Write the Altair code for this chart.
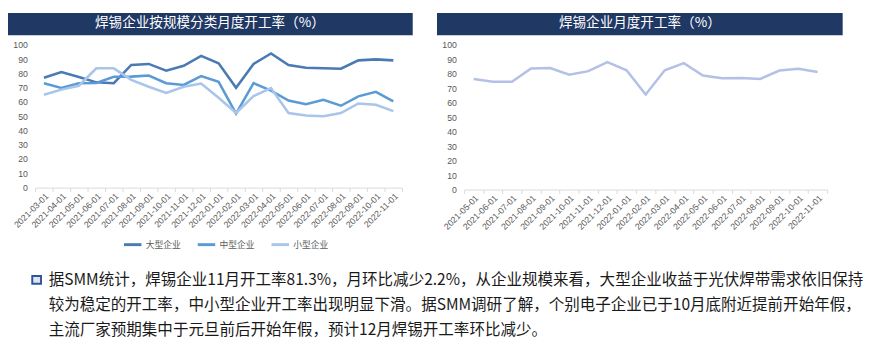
import altair as alt
import pandas as pd

# ---------------- data ----------------
months_left = ["2021-03-01", "2021-04-01", "2021-05-01", "2021-06-01", "2021-07-01",
               "2021-08-01", "2021-09-01", "2021-10-01", "2021-11-01", "2021-12-01",
               "2022-01-01", "2022-02-01", "2022-03-01", "2022-04-01", "2022-05-01",
               "2022-06-01", "2022-07-01", "2022-08-01", "2022-09-01", "2022-10-01",
               "2022-11-01"]
large = [77.0, 81.0, 77.5, 73.8, 73.2, 86.0, 86.7, 82.0, 85.4, 92.3,
         87.2, 70.0, 86.7, 94.1, 86.0, 84.0, 83.6, 83.4, 89.2, 89.9, 89.2]
medium = [73.2, 69.9, 73.2, 73.4, 77.7, 77.8, 78.6, 73.2, 72.0, 78.2,
          74.1, 51.8, 73.2, 68.0, 61.0, 58.4, 61.5, 57.4, 64.0, 67.1, 60.4]
small = [65.1, 68.7, 71.4, 83.6, 83.6, 75.5, 70.7, 66.4, 70.7, 73.0,
         63.0, 52.3, 64.2, 69.8, 52.3, 50.5, 50.0, 52.3, 59.0, 58.1, 53.6]
series_names = ["大型企业", "中型企业", "小型企业"]
series_colors = ["#4a7ab4", "#5b9bd5", "#a9c5ea"]

months_right = ["2021-05-01", "2021-06-01", "2021-07-01", "2021-08-01", "2021-09-01",
                "2021-10-01", "2021-11-01", "2021-12-01", "2022-01-01", "2022-02-01",
                "2022-03-01", "2022-04-01", "2022-05-01", "2022-06-01", "2022-07-01",
                "2022-08-01", "2022-09-01", "2022-10-01", "2022-11-01"]
overall = [76.5, 74.6, 74.6, 83.8, 84.1, 79.4, 81.9, 88.1, 82.5, 65.7,
           82.5, 87.4, 78.8, 77.0, 77.2, 76.5, 82.3, 83.5, 81.3]

title_left = "焊锡企业按规模分类月度开工率（%）"
title_right = "焊锡企业月度开工率（%）"
paragraph = [
    "据SMM统计，焊锡企业11月开工率81.3%，月环比减少2.2%，从企业规模来看，大型企业收益于光伏焊带需求依旧保持",
    "较为稳定的开工率，中小型企业开工率出现明显下滑。据SMM调研了解，个别电子企业已于10月底附近提前开始年假，",
    "主流厂家预期集中于元旦前后开始年假，预计12月焊锡开工率环比减少。",
]

# ---------------- styling ----------------
CJK = "Noto Sans CJK SC"
AX_FONT = "Liberation Sans"
BAR = "#203864"
W_L, H_L = 378, 147
W_R, H_R = 374, 149

rows = []
for name, vals in zip(series_names, [large, medium, small]):
    for m, v in zip(months_left, vals):
        rows.append({"month": m, "value": v, "series": name})
df_left = pd.DataFrame(rows)
df_right = pd.DataFrame({"month": months_right, "value": overall})


def x_enc(order):
    return alt.X(
        "month:N", sort=order, bandPosition=0.5,
        scale=alt.Scale(type="band", paddingInner=0, paddingOuter=0),
        axis=alt.Axis(title=None, labelAngle=-45, tickBand="extent",
                      domainColor="#d9d9d9", tickColor="#d9d9d9", tickSize=4,
                      labelPadding=0, labelFontSize=9, labelColor="#595959",
                      labelFont=AX_FONT),
    )


y_enc = alt.Y(
    "value:Q", scale=alt.Scale(domain=[0, 100]),
    axis=alt.Axis(title=None, values=list(range(0, 101, 10)), grid=False,
                  domain=False, ticks=False, labelPadding=8, labelFontSize=9,
                  labelColor="#595959", labelFont=AX_FONT),
)

# ---------- left panel ----------
lines_left = alt.Chart(df_left).mark_line(strokeWidth=2.6).encode(
    x=x_enc(months_left),
    y=y_enc,
    color=alt.Color(
        "series:N", sort=series_names,
        scale=alt.Scale(domain=series_names, range=series_colors),
        legend=alt.Legend(orient="none", legendX=90, legendY=195,
                          direction="horizontal", title=None,
                          symbolType="stroke", symbolSize=324,
                          symbolStrokeWidth=3, labelFontSize=9,
                          labelColor="#595959", labelFont=CJK,
                          columnPadding=10, labelOffset=3),
    ),
)

bar_left = alt.Chart(pd.DataFrame({"t": [title_left]})).mark_rect(color=BAR).encode(
    x=alt.value(-28), x2=alt.value(389), y=alt.value(-33), y2=alt.value(-10))
title_l = alt.Chart(pd.DataFrame({"t": [title_left]})).mark_text(
    color="white", fontSize=14, font=CJK, align="center", baseline="middle").encode(
    x=alt.value(180), y=alt.value(-23), text="t:N")

bullet = alt.Chart(pd.DataFrame({"t": ["□"]})).mark_rect(
    fill="#dce6f2", stroke="#2f5597", strokeWidth=2).encode(
    x=alt.value(-3), x2=alt.value(6), y=alt.value(238), y2=alt.value(246))

para_layers = []
for i, line in enumerate(paragraph):
    para_layers.append(
        alt.Chart(pd.DataFrame({"t": [line]})).mark_text(
            color="#1a1a1a", fontSize=16, font=CJK, align="left",
            baseline="middle").encode(
            x=alt.value(14), y=alt.value(242 + 26 * i), text="t:N"))

left = alt.layer(bar_left, title_l, lines_left, bullet, *para_layers).properties(
    width=W_L, height=H_L)

# ---------- right panel ----------
line_right = alt.Chart(df_right).mark_line(strokeWidth=2.6, color="#b4c1e6").encode(
    x=x_enc(months_right), y=y_enc)
bar_right = alt.Chart(pd.DataFrame({"t": [title_right]})).mark_rect(color=BAR).encode(
    x=alt.value(-28), x2=alt.value(390), y=alt.value(-33), y2=alt.value(-10))
title_r = alt.Chart(pd.DataFrame({"t": [title_right]})).mark_text(
    color="white", fontSize=14, font=CJK, align="center", baseline="middle").encode(
    x=alt.value(181), y=alt.value(-23), text="t:N")

right = alt.layer(bar_right, title_r, line_right).properties(width=W_R, height=H_R)

chart = alt.hconcat(left, right, spacing=64, bounds="flush").properties(
    padding=0, background="white"
).configure_view(stroke=None)

chart.save("out.html", embed_options={"renderer": "svg", "actions": False})
